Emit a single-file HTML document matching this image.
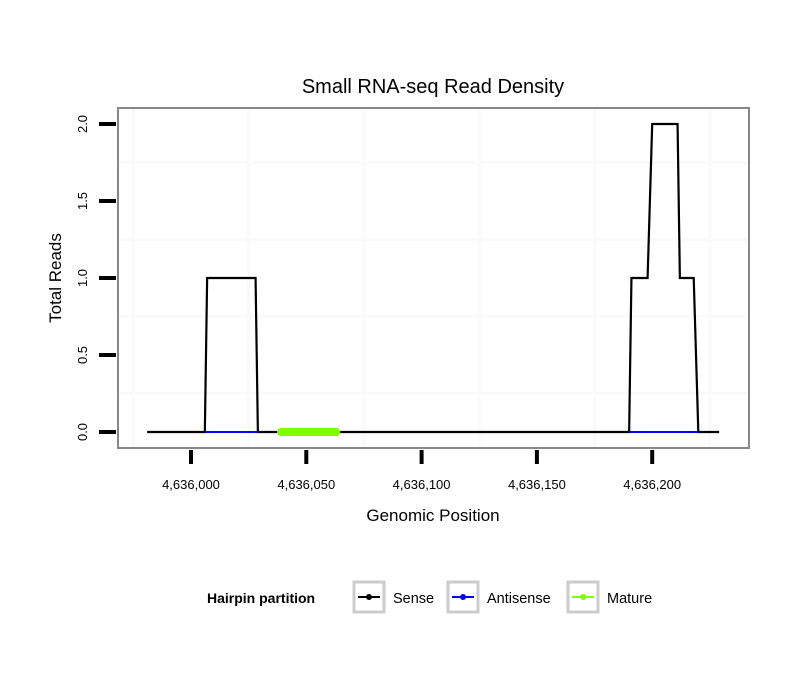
<!DOCTYPE html>
<html><head><meta charset="utf-8"><style>body{margin:0;background:#fff}svg{display:block;font-family:"Liberation Sans",sans-serif}</style></head>
<body>
<svg width="810" height="690">
<rect width="810" height="690" fill="#fff"/>
<text x="433" y="93" font-size="20" text-anchor="middle">Small RNA-seq Read Density</text>
<g id="grid"></g>
<g id="series"></g>
<rect x="118" y="108" width="631" height="340" fill="none" stroke="#888" stroke-width="2"/>
<g id="axes"></g>
<text x="433" y="521" font-size="17" text-anchor="middle">Genomic Position</text>
<text transform="translate(61,278) rotate(-90)" font-size="17" text-anchor="middle">Total Reads</text>
<g>
<text x="207" y="603" font-size="14" font-weight="bold">Hairpin partition</text>
<g><rect x="354" y="582" width="30" height="30" fill="none" stroke="#ccc" stroke-width="3"/><line x1="358" y1="597" x2="380" y2="597" stroke="#000" stroke-width="2"/><circle cx="369" cy="597" r="3" fill="#000"/><text x="393" y="603" font-size="14.5">Sense</text></g>
<g><rect x="448" y="582" width="30" height="30" fill="none" stroke="#ccc" stroke-width="3"/><line x1="452" y1="597" x2="474" y2="597" stroke="#00f" stroke-width="2"/><circle cx="463" cy="597" r="3" fill="#00f"/><text x="487" y="603" font-size="14.5">Antisense</text></g>
<g><rect x="568" y="582" width="30" height="30" fill="none" stroke="#ccc" stroke-width="3"/><line x1="572" y1="597" x2="594" y2="597" stroke="#7fff00" stroke-width="2"/><circle cx="583" cy="597" r="3" fill="#7fff00"/><text x="607" y="603" font-size="14.5">Mature</text></g>
</g>
</svg>
<script>
const NS="http://www.w3.org/2000/svg";
const senseX=[4635981,4636006,4636007,4636028,4636029,4636190,4636191,4636198,4636200,4636211,4636212,4636218,4636220,4636229];
const senseY=[0,0,1,1,0,0,1,1,2,2,1,1,0,0];
const antisenseSegs=[[4636006,4636029],[4636190,4636220]];
const matureRange=[4636039,4636063];
const xTicks=[4636000,4636050,4636100,4636150,4636200];
const xTickLabels=["4,636,000","4,636,050","4,636,100","4,636,150","4,636,200"];
const yTicks=[0,0.5,1,1.5,2];
const yTickLabels=["0.0","0.5","1.0","1.5","2.0"];
const xGrid=[4635975,4636025,4636075,4636125,4636175,4636225];
const yGrid=[0.25,0.75,1.25,1.75];
const X=v=>191+(v-4636000)*2.306;
const Y=v=>432-v*154;
function mk(t,a,p){const e=document.createElementNS(NS,t);for(const k in a)e.setAttribute(k,a[k]);p.appendChild(e);return e;}
const g=document.getElementById('grid'),s=document.getElementById('series'),ax=document.getElementById('axes');
xGrid.forEach(v=>{const l=mk('line',{x1:X(v),x2:X(v),y1:109,y2:447,stroke:'#fafafa','stroke-width':3},g);

});
yGrid.forEach(v=>{const l=mk('line',{x1:119,x2:748,y1:Y(v),y2:Y(v),stroke:'#fafafa','stroke-width':3},g);

});
const sp=mk('polyline',{points:senseX.map((x,i)=>X(x)+','+Y(senseY[i])).join(' '),fill:'none',stroke:'#000','stroke-width':2.2},s);


antisenseSegs.forEach(a=>{const l=mk('line',{x1:X(a[0]),x2:X(a[1]),y1:Y(0),y2:Y(0),stroke:'#00f','stroke-width':2},s);

});
const m=mk('line',{x1:X(matureRange[0]),x2:X(matureRange[1]),y1:Y(0),y2:Y(0),stroke:'#7fff00','stroke-width':8,'stroke-linecap':'round'},s);


xTicks.forEach((v,i)=>{const l=mk('line',{x1:X(v),x2:X(v),y1:450,y2:464,stroke:'#000','stroke-width':4},ax);


const t=mk('text',{x:X(v),y:489,'font-size':13,'text-anchor':'middle'},ax);t.textContent=xTickLabels[i];

});
yTicks.forEach((v,i)=>{const l=mk('line',{x1:99,x2:116,y1:Y(v),y2:Y(v),stroke:'#000','stroke-width':4},ax);


const t=mk('text',{transform:`translate(87,${Y(v)}) rotate(-90)`,'font-size':13,'text-anchor':'middle'},ax);t.textContent=yTickLabels[i];

});
</script>
</body></html>
